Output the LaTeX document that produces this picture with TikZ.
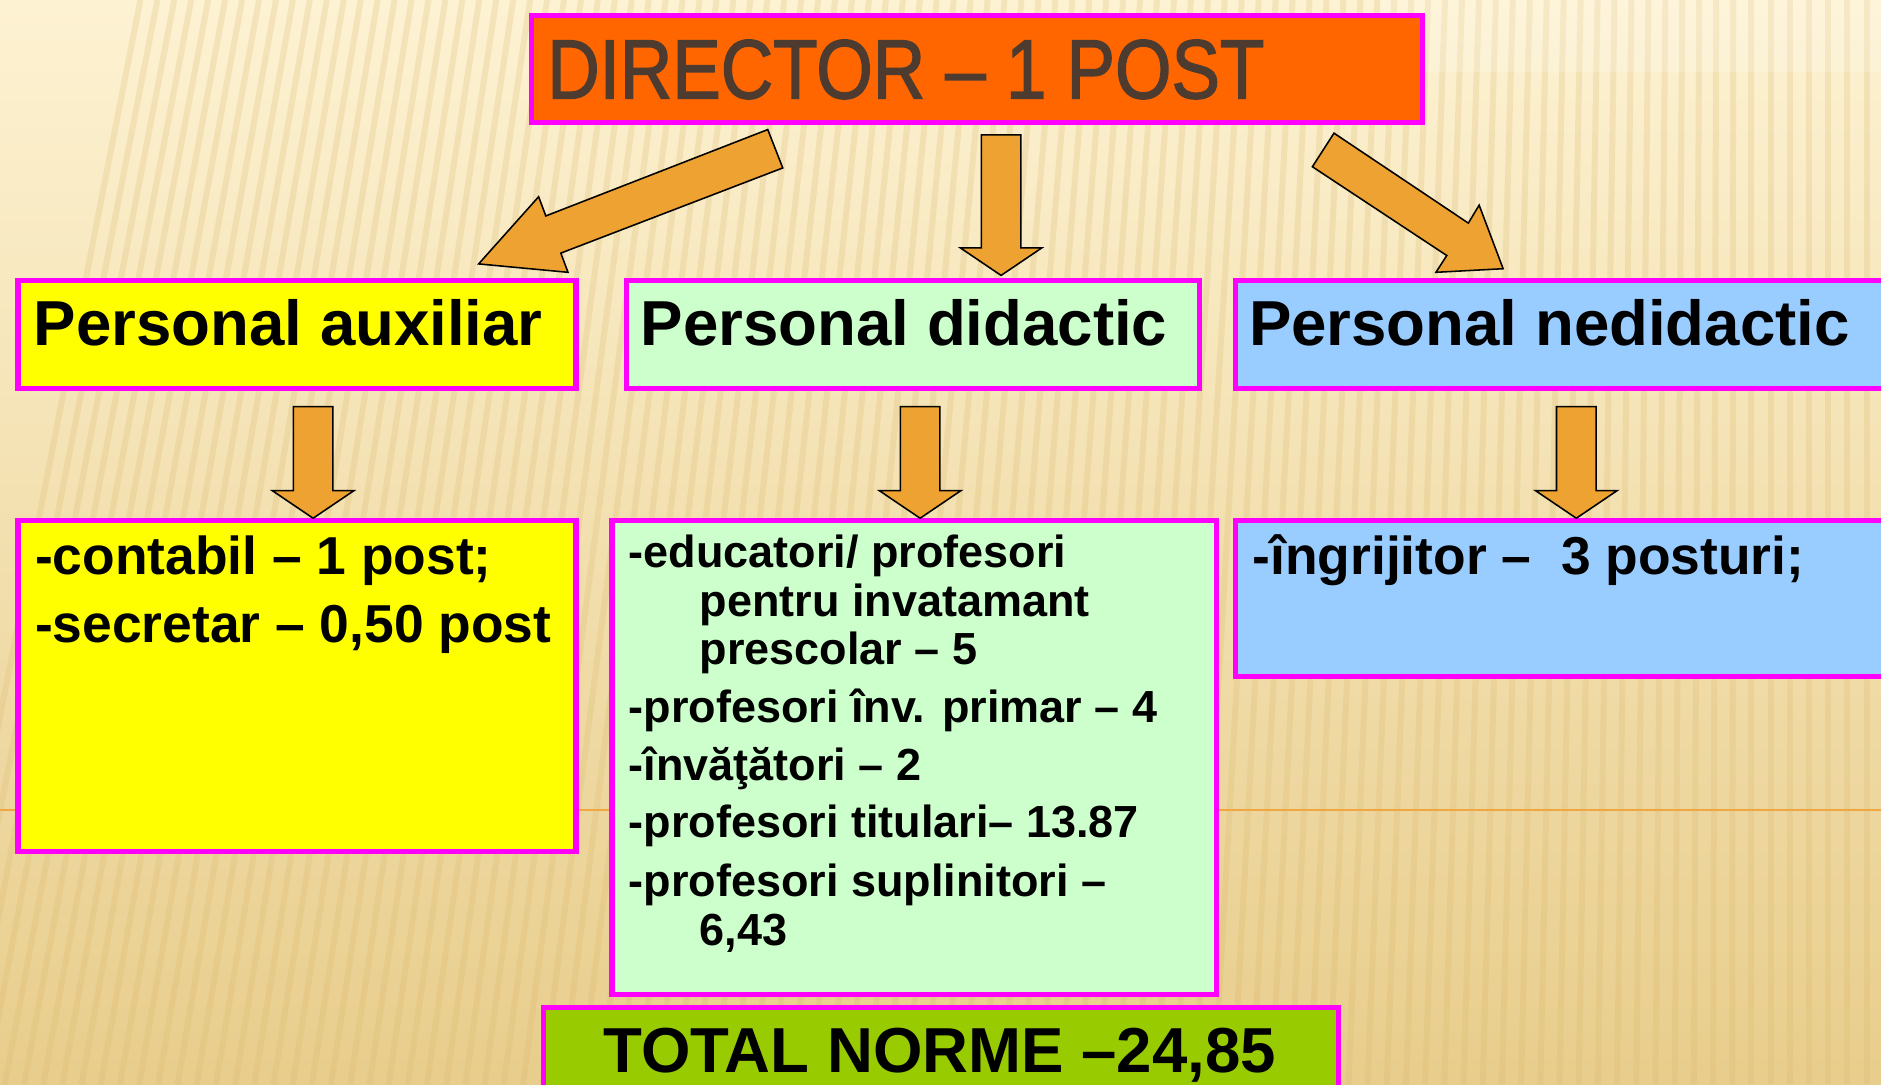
\documentclass[tikz,border=0pt]{standalone}
\usepackage{fontspec}
\setmainfont{Liberation Sans}
\newfontfamily\dirfont[FakeStretch=0.865,FakeBold=1.6]{Liberation Sans}
\definecolor{bgtop}{HTML}{FDF2D2}
\definecolor{bgmid}{HTML}{FBEBC2}
\definecolor{bgbot}{HTML}{E8CD8C}
\definecolor{stripecol}{HTML}{D8B468}
\definecolor{framecol}{HTML}{FF00FF}
\definecolor{dirfill}{HTML}{FF6600}
\definecolor{dirtext}{HTML}{4E3B30}
\definecolor{auxfill}{HTML}{FFFF00}
\definecolor{didfill}{HTML}{CCFFCC}
\definecolor{nedfill}{HTML}{99CCFF}
\definecolor{totfill}{HTML}{99CC00}
\definecolor{arrfill}{HTML}{EDA232}
\definecolor{rulecol}{HTML}{F2A640}
\newcommand{\blockdown}[3]{%
  \draw[barrow] (#1-16.5,#2) -- (#1+16.5,#2) -- (#1+16.5,#3-23) -- (#1+34,#3-23)
    -- (#1,#3) -- (#1-34,#3-23) -- (#1-16.5,#3-23) -- cycle;}
\begin{document}
\begin{tikzpicture}[x=1pt,y=-1pt,
  box/.style={draw=framecol, line width=4.5pt, anchor=north west, inner sep=0pt, outer sep=0pt},
  barrow/.style={draw=black, line width=1.3pt, fill=arrfill, line join=miter},
  head/.style={anchor=base west, inner sep=0pt, font=\bfseries\fontsize{53}{60}\selectfont},
  item/.style={anchor=base west, inner sep=0pt, font=\bfseries\fontsize{44.5}{50}\selectfont},
  small/.style={anchor=base west, inner sep=0pt, font=\bfseries\fontsize{37.5}{42}\selectfont},
  stripe/.style={draw=stripecol, line width=5pt, opacity=0.22}]
\useasboundingbox (0,0) rectangle (1568,904);
\clip (0,0) rectangle (1568,904);
% background
\shade[top color=bgtop, middle color=bgmid, bottom color=bgbot] (0,0) rectangle (1568,904);
\foreach \i in {0,...,105} {
  \pgfmathsetmacro\bx{\i*16-60}
  \pgfmathsetmacro\sl{max(0,170*(1-\bx/1450))}
  \draw[stripe] (\bx,904) -- (\bx+\sl,0);
}
\fill[white, opacity=0.18] (1150,0) rectangle (1568,60);
\draw[rulecol, line width=1.5pt] (0,675) -- (1568,675);
% boxes
\node[box, fill=dirfill, minimum width=743pt, minimum height=89pt] (dir) at (443,13) {};
\node[box, fill=auxfill, minimum width=465pt, minimum height=90pt] (auxh) at (15,234) {};
\node[box, fill=didfill, minimum width=478pt, minimum height=90pt] (didh) at (522,234) {};
\node[box, fill=nedfill, minimum width=600pt, minimum height=90pt] (nedh) at (1030,234) {};
\node[box, fill=auxfill, minimum width=465pt, minimum height=276pt] (auxb) at (15,434) {};
\node[box, fill=didfill, minimum width=504pt, minimum height=395pt] (didb) at (510,434) {};
\node[box, fill=nedfill, minimum width=600pt, minimum height=130pt] (nedb) at (1030,434) {};
\node[box, fill=totfill, minimum width=663pt, minimum height=100pt] (tot) at (453,840) {};
% texts
\node[anchor=base west, inner sep=0pt, text=dirtext, font=\dirfont\fontsize{70}{80}\selectfont] (dirt) at (456,82) {DIRECTOR – 1 POST};
\node[head] (auxht) at (28,288) {Personal auxiliar};
\node[head] (didht) at (534,288) {Personal didactic};
\node[head] (nedht) at (1041,288) {Personal nedidactic};
\node[item] (c1) at (29,479) {-contabil – 1 post;};
\node[item] (c2) at (29,536) {-secretar – 0,50 post};
\node[small] (d1) at (524,473) {-educatori/ profesori};
\node[small] (d2) at (583,514) {pentru invatamant};
\node[small] (d3) at (583,554) {prescolar – 5};
\node[small] (d4) at (524,602) {-profesori înv. primar – 4};
\node[small] (d5) at (524,650.5) {-învăţători – 2};
\node[small] (d6) at (524,698.5) {-profesori titulari– 13.87};
\node[small] (d7) at (524,747) {-profesori suplinitori –};
\node[small] (d8) at (583,788) {6,43};
\node[item] (n1) at (1044,479) {-îngrijitor –\ \ 3 posturi;};
\node[head] (tott) at (503,894) {TOTAL NORME –24,85};
% arrows
\draw[barrow] (640,108) -- (652.5,140) -- (467.5,211) -- (473.5,227) -- (399,220)
  -- (449,164) -- (455,180) -- cycle;
\blockdown{834.5}{112.5}{229.6}
\draw[barrow] (1112,111) -- (1224,186) -- (1233,171) -- (1253,224) -- (1197,227)
  -- (1206,213) -- (1094,139) -- cycle;
\blockdown{261}{339}{432}
\blockdown{767}{339}{432}
\blockdown{1314}{339}{432}
\end{tikzpicture}
\end{document}
